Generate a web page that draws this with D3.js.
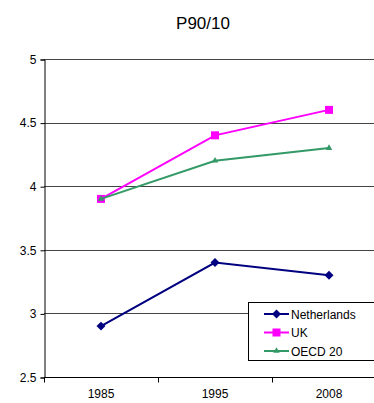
<!DOCTYPE html>
<html>
<head>
<meta charset="utf-8">
<script src="https://cdn.jsdelivr.net/npm/d3@7"></script>
<style>
  html, body { margin: 0; padding: 0; background: #fff; }
  svg { display: block; font-family: Arial, "Liberation Sans", sans-serif; }
</style>
</head>
<body>
<svg id="chart" width="374" height="403"></svg>
<script>
const years = ["1985", "1995", "2008"];
const netherlands = [2.9, 3.4, 3.3];
const uk = [3.9, 4.4, 4.6];
const oecd20 = [3.9, 4.2, 4.3];
const yTicks = [2.5, 3, 3.5, 4, 4.5, 5];

// square rotated by 45 degrees for the diamond marker
const squareDiamond = {
  draw(context, size) {
    const r = Math.sqrt(size / 2);
    context.moveTo(0, -r);
    context.lineTo(r, 0);
    context.lineTo(0, r);
    context.lineTo(-r, 0);
    context.closePath();
  }
};

const series = [
  { name: "Netherlands", values: netherlands, color: "#000080", symbol: squareDiamond, size: 40 },
  { name: "UK", values: uk, color: "#FF00FF", symbol: d3.symbolSquare, size: 64 },
  { name: "OECD 20", values: oecd20, color: "#339966", symbol: d3.symbolTriangle, size: 18 }
];

const svg = d3.select("#chart");
const plot = { left: 44, right: 386, top: 59, bottom: 377 };

const x = d3.scaleBand().domain(years).range([plot.left, plot.right]);
const y = d3.scaleLinear().domain([2.5, 5]).range([plot.bottom, plot.top]);

// title
svg.append("text")
  .attr("x", 203).attr("y", 29)
  .attr("text-anchor", "middle")
  .attr("font-size", 17)
  .attr("fill", "#000")
  .text("P90/10");

// horizontal gridlines
svg.append("g")
  .selectAll("line")
  .data(yTicks.filter(t => t > 2.5))
  .join("line")
  .attr("x1", plot.left).attr("x2", plot.right)
  .attr("y1", d => Math.round(y(d)) + 0.5)
  .attr("y2", d => Math.round(y(d)) + 0.5)
  .attr("stroke", "#444")
  .attr("stroke-width", 1);

// y axis
const yAxis = svg.append("g")
  .attr("transform", `translate(${plot.left + 0.5},0.5)`)
  .call(d3.axisLeft(y).tickValues(yTicks).tickSize(4).tickPadding(4).tickFormat(d3.format("")));
yAxis.select(".domain").attr("stroke", "#000");
yAxis.selectAll(".tick line").attr("stroke", "#000");
yAxis.selectAll(".tick text").attr("font-size", 12).attr("fill", "#000").attr("font-family", "Arial, 'Liberation Sans', sans-serif");

// x axis with ticks at category boundaries
const xAxisG = svg.append("g").attr("transform", `translate(0,${plot.bottom + 0.5})`);
xAxisG.append("line")
  .attr("x1", plot.left).attr("x2", plot.right)
  .attr("stroke", "#000");
xAxisG.selectAll("line.tick")
  .data(years.map(d => x(d)).concat([x(years[years.length - 1]) + x.bandwidth()]))
  .join("line")
  .attr("class", "tick")
  .attr("x1", d => Math.round(d) + 0.5).attr("x2", d => Math.round(d) + 0.5)
  .attr("y1", 0).attr("y2", 5)
  .attr("stroke", "#000");
xAxisG.selectAll("text")
  .data(years)
  .join("text")
  .attr("x", d => x(d) + x.bandwidth() / 2)
  .attr("y", 20)
  .attr("text-anchor", "middle")
  .attr("font-size", 12)
  .attr("fill", "#000")
  .text(d => d);

// lines and markers
const cx = d => x(d) + x.bandwidth() / 2;
const line = d3.line().x((v, i) => cx(years[i])).y(v => y(v));

series.forEach(s => {
  svg.append("path")
    .attr("d", line(s.values))
    .attr("fill", "none")
    .attr("stroke", s.color)
    .attr("stroke-width", 2);
  svg.append("g")
    .selectAll("path")
    .data(s.values)
    .join("path")
    .attr("transform", (v, i) => `translate(${cx(years[i])},${y(v)})`)
    .attr("d", d3.symbol().type(s.symbol).size(s.size))
    .attr("fill", s.color);
});

// legend
const lg = svg.append("g");
lg.append("rect")
  .attr("x", 248.5).attr("y", 302.5)
  .attr("width", 140).attr("height", 58)
  .attr("fill", "#fff")
  .attr("stroke", "#000");
series.forEach((s, i) => {
  const ly = 314 + i * 18.5;
  lg.append("line")
    .attr("x1", 264).attr("x2", 289)
    .attr("y1", ly).attr("y2", ly)
    .attr("stroke", s.color).attr("stroke-width", 2);
  lg.append("path")
    .attr("transform", `translate(276.5,${ly})`)
    .attr("d", d3.symbol().type(s.symbol).size(s.size))
    .attr("fill", s.color);
  lg.append("text")
    .attr("x", 291).attr("y", ly + 4.5)
    .attr("font-size", 12)
    .attr("fill", "#000")
    .text(s.name);
});
</script>
</body>
</html>
